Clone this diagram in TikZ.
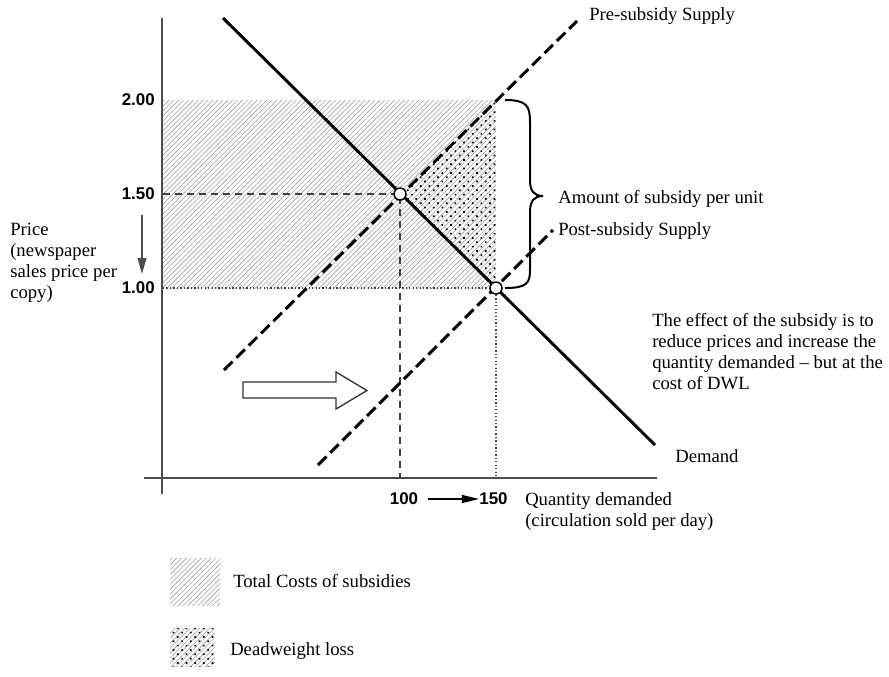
\documentclass[tikz,border=0pt]{standalone}
\usepackage{fontspec}
\setmainfont{Liberation Serif}
\newfontfamily\numfont{Liberation Sans}
\usetikzlibrary{patterns.meta,arrows.meta}
\begin{document}
\begin{tikzpicture}[x=0.75pt,y=-0.75pt,
  axis/.style={draw=black!70,line width=1.5pt},
  demandline/.style={line width=2.2pt,black},
  supplyline/.style={line width=2.2pt,black,dash pattern=on 9pt off 4pt},
  guide/.style={black!75,line width=1pt,dash pattern=on 5.5pt off 3.5pt},
  guidedot/.style={black!75,line width=1pt,dash pattern=on 1pt off 1.6pt},
  hatch/.style={pattern={Lines[angle=45,distance=2.6pt,line width=0.45pt]},pattern color=black!38},
  dotsfill/.style={pattern={Dots[angle=45,distance=4.6pt,radius=0.9pt]},pattern color=black},
  eq/.style={circle,draw=black,line width=1.1pt,fill=white,inner sep=0pt,minimum size=9pt},
  txt/.style={font=\fontsize{14}{15.75}\selectfont,inner sep=0pt},
  num/.style={font=\fontsize{12.7}{15}\selectfont\numfont\bfseries,inner sep=0pt},
]
\useasboundingbox (0,0) rectangle (889,676);

% shaded areas
\fill[hatch] (163,100) rectangle (496,288);
\fill[dotsfill] (400,194) -- (496,100) -- (496,288) -- cycle;

% axes
\coordinate (ytop) at (162,18);
\coordinate (ybot) at (162,494);
\coordinate (xleft) at (144,478);
\coordinate (xright) at (657,478);
\draw[axis] (ytop) -- (ybot);
\draw[axis] (xleft) -- (xright);

% equilibrium points
\coordinate (e1) at (400,194);
\coordinate (e2) at (496,288);
\coordinate (y150) at (163,194);
\coordinate (y100) at (163,288);
\coordinate (q100) at (400,478);
\coordinate (q150) at (496,478);

% guides
\draw[guide] (y150) -- (e1) -- (q100);
\draw[guidedot] (y100) -- (e2) -- (q150);

% curves
\coordinate (dtop) at (223,18);
\coordinate (dbot) at (655,445);
\coordinate (s1bot) at (224,370);
\coordinate (s1top) at (577,21);
\coordinate (s2bot) at (318,465);
\coordinate (s2top) at (553,230);
\draw[supplyline] (s1bot) -- (s1top);
\draw[supplyline] (s2bot) -- (s2top);
\draw[demandline] (dtop) -- (dbot);

\node[eq] (c1) at (e1) {};
\node[eq] (c2) at (e2) {};

% brace
\draw[line width=1.5pt] (505,100) .. controls (527,100) and (530,106) .. (530,122) -- (530,180) .. controls (530,191) and (534,196) .. (543,196) .. controls (534,196) and (530,201) .. (530,212) -- (530,270) .. controls (530,283) and (527,288) .. (505,288);

% hollow shift arrow
\draw[line width=1pt,black!80] (243,382) -- (336,382) -- (336,372) -- (367,390.5) -- (336,409) -- (336,398) -- (243,398) -- cycle;

% price axis labels
\node[num,anchor=east] (p200) at (155,100) {2.00};
\node[num,anchor=east] (p150) at (155,194) {1.50};
\node[num,anchor=east] (p100) at (155,288) {1.00};
\coordinate (da1) at (142,215);
\coordinate (da2) at (142,274);
\draw[black!70,line width=1.5pt,-{Triangle[length=12pt,width=6.5pt]}] (da1) -- (da2);

\node[txt,anchor=base west,align=left] (plabel) at (10,298) {Price\\(newspaper\\sales price per\\copy)};

% quantity labels
\node[num] (n100) at (404,499) {100};
\node[num] (n150) at (493.5,499) {150};
\draw[line width=1.1pt,shorten <=7.5pt,-{Triangle[length=13pt,width=6pt]}] (n100.east) -- (n150.west);
\node[txt,anchor=base west,align=left] (qlabel) at (525,526) {Quantity demanded\\(circulation sold per day)};

% curve labels
\node[txt,anchor=base west] (lpre) at (589,20) {Pre-subsidy Supply};
\node[txt,anchor=base west] (lamt) at (558,203) {Amount of subsidy per unit};
\node[txt,anchor=base west] (lpost) at (558,235) {Post-subsidy Supply};
\node[txt,anchor=base west] (ldem) at (675,462) {Demand};
\node[txt,anchor=base west,align=left] (leff) at (652,389) {The effect of the subsidy is to\\reduce prices and increase the\\quantity demanded -- but at the\\cost of DWL};

% legend
\fill[hatch] (170,558) rectangle (220,605);
\fill[hatch] (170,628) rectangle (215,666);
\fill[dotsfill] (170,628) rectangle (215,666);
\node[txt,anchor=base west] (leg1) at (233,587) {Total Costs of subsidies};
\node[txt,anchor=base west] (leg2) at (230,655) {Deadweight loss};
\end{tikzpicture}
\end{document}
